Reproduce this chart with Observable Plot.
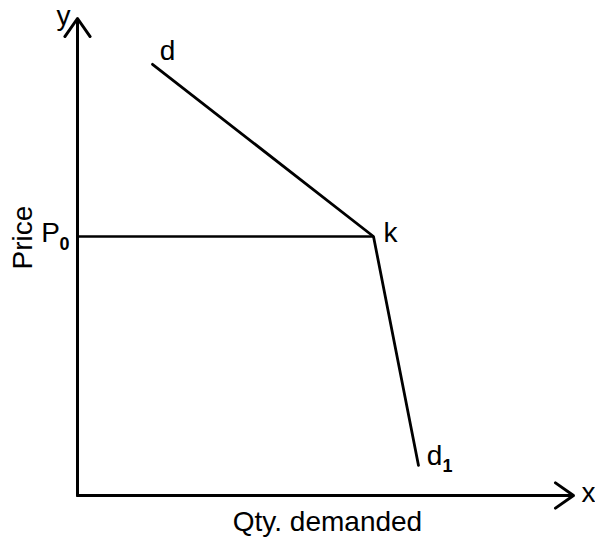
<!DOCTYPE html>
<html>
<head>
<meta charset="utf-8">
<script src="https://cdn.jsdelivr.net/npm/d3@7"></script>
<script src="https://cdn.jsdelivr.net/npm/@observablehq/plot@0.6"></script>
<style>
  html, body { margin: 0; padding: 0; background: #ffffff; }
  #chart svg { display: block; }
</style>
</head>
<body>
<div id="chart"></div>
<script>
// Kinked demand curve: quantity (x) and price (y), in arbitrary units 0–100
const curveQty = [15, 59.2, 68.2];
const curvePrice = [90.4, 54.3, 6.3];
const curveLabels = ["d", "k", "d"];
const p0 = 54.3;
const axisMax = [99.2, 100];
const axisTitles = ["Qty. demanded", "Price"];
const axisLetters = ["x", "y"];

const curve = curveQty.map((q, i) => ({q, p: curvePrice[i], label: curveLabels[i]}));
const font = "Liberation Sans, Arial, Helvetica, sans-serif";
const fs = 28;
const sub = 18;

const plot = Plot.plot({
  width: 595,
  height: 538,
  marginLeft: 77,
  marginRight: 18,
  marginTop: 18,
  marginBottom: 43,
  style: {fontFamily: font, background: "#ffffff", color: "#000"},
  x: {domain: [0, 100], axis: null},
  y: {domain: [0, 100], axis: null},
  marks: [
    // axes
    Plot.arrow([{x1: 0, y1: 0, x2: axisMax[0], y2: 0}, {x1: 0, y1: 0, x2: 0, y2: axisMax[1]}], {
      x1: "x1", y1: "y1", x2: "x2", y2: "y2", bend: 0, headLength: 11, headAngle: 70,
      stroke: "#000", strokeWidth: 3
    }),
    // P0 horizontal
    Plot.ruleY([p0], {x1: 0, x2: curveQty[1], stroke: "#000", strokeWidth: 2.6}),
    // kinked demand curve
    Plot.line(curve, {x: "q", y: "p", stroke: "#000", strokeWidth: 2.8, strokeLinejoin: "miter"}),
    // curve labels
    Plot.text([curve[0]], {x: "q", y: "p", text: "label", dx: 15, dy: -13, fontSize: fs, fill: "#000"}),
    Plot.text([curve[1]], {x: "q", y: "p", text: "label", dx: 17, dy: -3, fontSize: fs, fill: "#000"}),
    Plot.text([curve[2]], {x: "q", y: "p", text: "label", dx: 16, dy: -9, fontSize: fs, fill: "#000"}),
    Plot.text([curve[2]], {x: "q", y: "p", text: () => "1", dx: 29, dy: 1, fontSize: sub, fontWeight: "bold", fill: "#000"}),
    // P0 label
    Plot.text([p0], {x: 0, y: d => d, text: () => "P", dx: -27, dy: -3, fontSize: fs, fill: "#000"}),
    Plot.text([p0], {x: 0, y: d => d, text: () => "0", dx: -13, dy: 8, fontSize: sub, fontWeight: "bold", fill: "#000"}),
    // axis letters
    Plot.text([axisLetters[0]], {x: axisMax[0], y: 0, text: d => d, dx: 15, dy: -2, fontSize: fs, fill: "#000"}),
    Plot.text([axisLetters[1]], {x: 0, y: axisMax[1], text: d => d, dx: -14, dy: -2, fontSize: fs, fill: "#000"}),
    // axis titles
    Plot.text([axisTitles[0]], {x: 50, y: 0, text: d => d, dy: 27, fontSize: fs, fill: "#000"}),
    Plot.text([axisTitles[1]], {x: 0, y: p0, text: d => d, dx: -54, dy: 1, rotate: -90, fontSize: fs, fill: "#000"})
  ]
});
document.getElementById("chart").appendChild(plot);
</script>
</body>
</html>
